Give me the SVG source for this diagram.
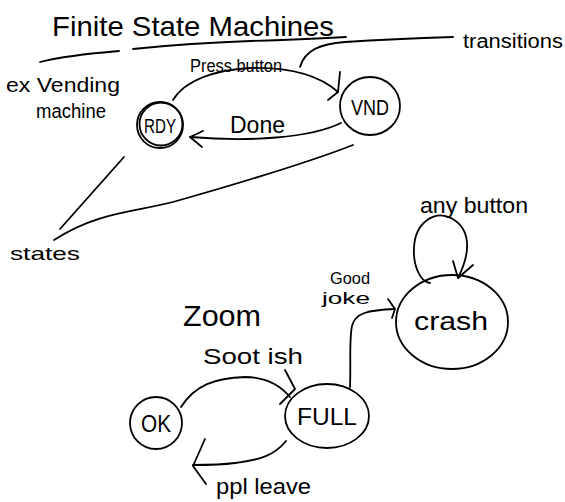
<svg xmlns="http://www.w3.org/2000/svg" width="565" height="502" viewBox="0 0 565 502">
  <style>
    .ink { fill: none; stroke: #000; stroke-width: 1.8; stroke-linecap: round; stroke-linejoin: round; }
    .txt { font-family: "Liberation Sans", "DejaVu Sans", sans-serif; fill: #000; }
  </style>
  <rect width="565" height="502" fill="#fff"/>

  <!-- heading and notes -->
  <g id="title">
    <text class="txt" x="52" y="36" font-size="28" textLength="282" lengthAdjust="spacingAndGlyphs">Finite State Machines</text>
    <path class="ink" d="M40,62 C60,57 95,53 119,51"/>
    <path class="ink" d="M133,49 C180,44 240,41 282,40 C310,39 330,38 346,37"/>
  </g>
  <g id="note-example">
    <text class="txt" x="6" y="92" font-size="20" textLength="114" lengthAdjust="spacingAndGlyphs">ex Vending</text>
    <text class="txt" x="36" y="118" font-size="20" textLength="70" lengthAdjust="spacingAndGlyphs">machine</text>
  </g>
  <g id="note-transitions">
    <text class="txt" x="463" y="48" font-size="20" textLength="100" lengthAdjust="spacingAndGlyphs">transitions</text>
  </g>
  <g id="note-states">
    <text class="txt" x="10" y="260" font-size="19" textLength="70" lengthAdjust="spacingAndGlyphs">states</text>
  </g>
  <g id="heading-zoom">
    <text class="txt" x="183" y="326" font-size="30" textLength="78" lengthAdjust="spacingAndGlyphs">Zoom</text>
  </g>

  <!-- states -->
  <g id="RDY">
    <circle class="ink" cx="160" cy="125" r="23"/>
    <circle class="ink" cx="161" cy="124" r="21.5" stroke-width="1.2"/>
    <text class="txt" x="160" y="133" font-size="20" text-anchor="middle" textLength="32" lengthAdjust="spacingAndGlyphs">RDY</text>
  </g>
  <g id="VND">
    <ellipse class="ink" cx="370" cy="106" rx="30" ry="29"/>
    <text class="txt" x="370" y="115" font-size="22" text-anchor="middle" textLength="38" lengthAdjust="spacingAndGlyphs">VND</text>
  </g>
  <g id="crash">
    <ellipse class="ink" cx="452" cy="322" rx="56" ry="47"/>
    <text class="txt" x="451" y="330" font-size="26" text-anchor="middle" textLength="74" lengthAdjust="spacingAndGlyphs">crash</text>
  </g>
  <g id="OK">
    <circle class="ink" cx="156" cy="423" r="26"/>
    <text class="txt" x="156" y="432" font-size="24" text-anchor="middle" textLength="30" lengthAdjust="spacingAndGlyphs">OK</text>
  </g>
  <g id="FULL">
    <ellipse class="ink" cx="327" cy="416" rx="42" ry="32"/>
    <text class="txt" x="327" y="425" font-size="24" text-anchor="middle" textLength="60" lengthAdjust="spacingAndGlyphs">FULL</text>
  </g>

  <!-- connectors -->
  <g id="connectors">
    <!-- Press button: RDY -> VND -->
    <path class="ink" d="M173,100 C185,80 215,70 250,68 C290,67 320,76 338,92"/>
    <path class="ink" d="M340,72 L338,92 L328,100"/>
    <text class="txt" x="190" y="72" font-size="18" textLength="92" lengthAdjust="spacingAndGlyphs">Press button</text>
    <!-- Done: VND -> RDY -->
    <path class="ink" d="M341,123 C310,138 250,142 190,137"/>
    <path class="ink" d="M203,131 L190,137 L202,147"/>
    <text class="txt" x="230" y="133" font-size="24" textLength="55" lengthAdjust="spacingAndGlyphs">Done</text>
    <!-- pointer lines to notes -->
    <path class="ink" d="M300,67 C305,50 320,44 345,42 C390,39 420,38 453,37"/>
    <path class="ink" d="M124,157 L60,229"/>
    <path class="ink" d="M353,145 C320,158 250,180 180,200 C140,212 100,210 54,240"/>
    <!-- any button: self loop on crash -->
    <path class="ink" d="M451,218 C435,210 415,222 414,248 C413,265 420,282 430,283"/>
    <path class="ink" d="M451,218 C470,228 472,250 458,278"/>
    <path class="ink" d="M453,261 L458,278 L473,265"/>
    <text class="txt" x="420" y="213" font-size="22" textLength="108" lengthAdjust="spacingAndGlyphs">any button</text>
    <!-- Soot ish: OK -> FULL -->
    <path class="ink" d="M181,407 C195,385 215,378 245,377 C265,377 280,385 290,397"/>
    <path class="ink" d="M285,370 L295,389 L280,404"/>
    <text class="txt" x="203" y="364" font-size="22" textLength="100" lengthAdjust="spacingAndGlyphs">Soot ish</text>
    <!-- Good joke: FULL -> crash -->
    <path class="ink" d="M350,387 C351,365 349,340 352,326 C355,313 368,310 395,309"/>
    <path class="ink" d="M388,299 L395,309 L392,318"/>
    <text class="txt" x="330" y="284" font-size="17" textLength="40" lengthAdjust="spacingAndGlyphs">Good</text>
    <text class="txt" x="322" y="304" font-size="17" textLength="48" lengthAdjust="spacingAndGlyphs">joke</text>
    <!-- ppl leave: FULL -> OK -->
    <path class="ink" d="M286,441 C275,455 260,460 235,463 C220,465 205,465 193,465"/>
    <path class="ink" d="M205,439 L193,466 L206,484"/>
    <text class="txt" x="216" y="494" font-size="22" textLength="95" lengthAdjust="spacingAndGlyphs">ppl leave</text>
  </g>
</svg>
